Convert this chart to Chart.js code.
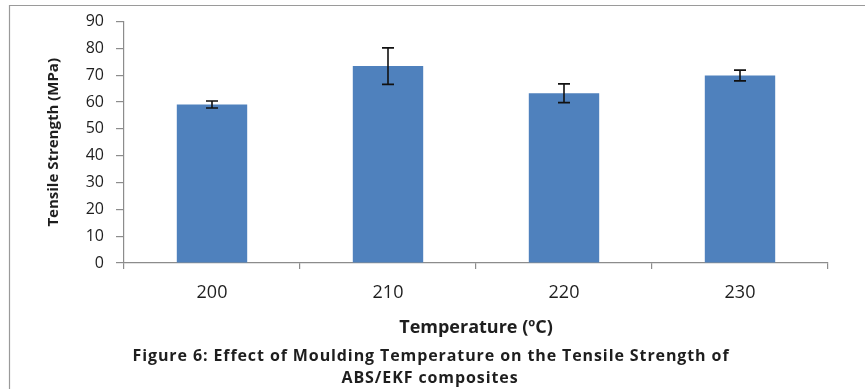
<!DOCTYPE html>
<html>
<head>
<meta charset="utf-8">
<script src="https://cdn.jsdelivr.net/npm/chart.js@4"></script>
<style>
  html, body { margin: 0; padding: 0; background: #fff; }
  #wrap { width: 865px; height: 389px; position: relative; }
</style>
</head>
<body>
<div id="wrap"><canvas id="myChart" width="865" height="389"></canvas></div>
<script>
// Data
const temperatures = ['200', '210', '220', '230'];
const tensileStrength = [59.1, 73.4, 63.3, 69.9];
const tensileError = [1.3, 6.8, 3.5, 2.0];
const yTicks = [0, 10, 20, 30, 40, 50, 60, 70, 80, 90];
const captionLines = [
    'Figure 6: Effect of Moulding Temperature on the Tensile Strength of',
    'ABS/EKF composites'
];

const axisGrey = '#8c8c8c';
const textDark = '#1e1e1e';
const fontFamily = '"Open Sans", Lato, sans-serif';

// frame lines + white background
const framePlugin = {
    id: 'frame',
    beforeDraw(chart) {
        const ctx = chart.ctx;
        ctx.save();
        ctx.fillStyle = '#fff';
        ctx.fillRect(0, 0, chart.width, chart.height);
        ctx.strokeStyle = '#9a9a9a';
        ctx.lineWidth = 1.2;
        ctx.beginPath();
        ctx.moveTo(9.5, chart.height);
        ctx.lineTo(9.5, 5.5);
        ctx.lineTo(chart.width, 5.5);
        ctx.stroke();
        ctx.restore();
    },
    afterDraw(chart) {
        // caption under the chart
        const ctx = chart.ctx;
        ctx.save();
        ctx.fillStyle = textDark;
        ctx.font = 'bold 16px ' + fontFamily;
        ctx.letterSpacing = '0.9px';
        ctx.textAlign = 'center';
        ctx.textBaseline = 'middle';
        ctx.fillText(captionLines[0], 431, 356);
        ctx.fillText(captionLines[1], 430, 378);
        ctx.restore();
    }
};

// error bars drawn from the y scale
const errorBarPlugin = {
    id: 'errorBars',
    afterDatasetsDraw(chart) {
        const ctx = chart.ctx;
        const y = chart.scales.y;
        const meta = chart.getDatasetMeta(0);
        ctx.save();
        ctx.strokeStyle = '#111';
        ctx.lineWidth = 1.6;
        meta.data.forEach((bar, i) => {
            const top = y.getPixelForValue(tensileStrength[i] + tensileError[i]);
            const bot = y.getPixelForValue(tensileStrength[i] - tensileError[i]);
            const cap = 6;
            ctx.beginPath();
            ctx.moveTo(bar.x, top);
            ctx.lineTo(bar.x, bot);
            ctx.moveTo(bar.x - cap, top);
            ctx.lineTo(bar.x + cap, top);
            ctx.moveTo(bar.x - cap, bot);
            ctx.lineTo(bar.x + cap, bot);
            ctx.stroke();
        });
        ctx.restore();
    }
};

const ctx = document.getElementById('myChart').getContext('2d');
const chart = new Chart(ctx, {
    type: 'bar',
    data: {
        labels: temperatures,
        datasets: [{
            label: 'Tensile Strength',
            data: tensileStrength,
            backgroundColor: '#4f81bd',
            borderWidth: 0,
            categoryPercentage: 1,
            barPercentage: 0.4
        }]
    },
    options: {
        responsive: false,
        animation: false,
        layout: {
            padding: { top: 16, right: 37, left: 0, bottom: 49 }
        },
        plugins: {
            legend: { display: false },
            tooltip: { enabled: false }
        },
        scales: {
            x: {
                afterFit: (scale) => { scale.height = 77; },
                grid: {
                    offset: true,
                    drawOnChartArea: false,
                    tickLength: 6,
                    color: axisGrey,
                    lineWidth: 1.2
                },
                border: { color: axisGrey, width: 1.2 },
                ticks: {
                    color: textDark,
                    padding: 13,
                    font: { family: fontFamily, size: 18 }
                },
                title: {
                    display: true,
                    text: 'Temperature (ºC)',
                    color: textDark,
                    font: { family: fontFamily, size: 18, weight: 'bold' },
                    padding: { top: 0, bottom: 1 }
                }
            },
            y: {
                min: 0,
                max: 90,
                afterFit: (scale) => { scale.width = 124; },
                afterBuildTicks: (scale) => {
                    scale.ticks = yTicks.map(v => ({ value: v }));
                },
                grid: {
                    drawOnChartArea: false,
                    tickLength: 8,
                    color: axisGrey,
                    lineWidth: 1.2
                },
                border: { color: axisGrey, width: 1.2 },
                ticks: {
                    color: textDark,
                    padding: 12,
                    font: { family: fontFamily, size: 16 }
                },
                title: {
                    display: true,
                    text: 'Tensile Strength (MPa)',
                    color: textDark,
                    font: { family: fontFamily, size: 15, weight: 'bold' },
                    padding: { top: 45, bottom: 0 }
                }
            }
        }
    },
    plugins: [framePlugin, errorBarPlugin]
});
</script>
</body>
</html>
